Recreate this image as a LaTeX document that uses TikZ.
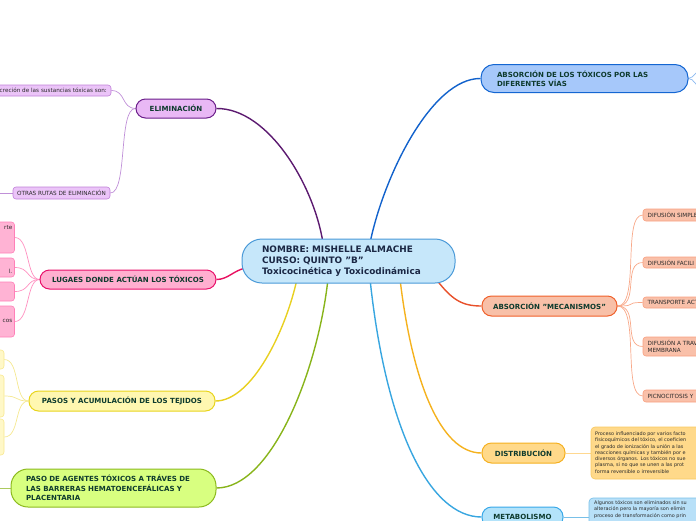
\documentclass[tikz,border=0pt]{standalone}
\usepackage{fontspec}
\setmainfont{DejaVu Sans}
\usetikzlibrary{calc}
\pgfdeclarelayer{bg}
\pgfsetlayers{bg,main}
\definecolor{cfill}{HTML}{C6E7FA}
\definecolor{cdraw}{HTML}{4A9AD8}
\definecolor{ctxt}{HTML}{1A2744}
\definecolor{txtgreen}{HTML}{0E3B2E}
\definecolor{subtxt}{HTML}{2A2A2A}
\definecolor{elfill}{HTML}{E9B8F5}
\definecolor{eldraw}{HTML}{6B1E8A}
\definecolor{elcon}{HTML}{5C1A70}
\definecolor{elsfill}{HTML}{EBC4F8}
\definecolor{elsdraw}{HTML}{C080D8}
\definecolor{elscon}{HTML}{C090D8}
\definecolor{lgfill}{HTML}{FFAFD0}
\definecolor{lgdraw}{HTML}{E8106A}
\definecolor{lgcon}{HTML}{E81060}
\definecolor{lgsfill}{HTML}{FFB3D4}
\definecolor{lgsdraw}{HTML}{FF80B8}
\definecolor{lgscon}{HTML}{FF90C0}
\definecolor{pafill}{HTML}{FFF7B0}
\definecolor{padraw}{HTML}{E8D41C}
\definecolor{pacon}{HTML}{E8D020}
\definecolor{pasfill}{HTML}{FFF8C8}
\definecolor{pasdraw}{HTML}{F8E890}
\definecolor{pascon}{HTML}{F5E890}
\definecolor{agfill}{HTML}{D8FF80}
\definecolor{agdraw}{HTML}{8CBA1E}
\definecolor{agcon}{HTML}{88B41A}
\definecolor{vifill}{HTML}{A6C8FA}
\definecolor{vidraw}{HTML}{1466D2}
\definecolor{vicon}{HTML}{1262CC}
\definecolor{viscon}{HTML}{8AB8F0}
\definecolor{mefill}{HTML}{F8C0A8}
\definecolor{medraw}{HTML}{F0602A}
\definecolor{mecon}{HTML}{E8502A}
\definecolor{mesfill}{HTML}{F9C0A9}
\definecolor{mesdraw}{HTML}{F8A080}
\definecolor{mescon}{HTML}{F8A888}
\definecolor{difill}{HTML}{FFD98A}
\definecolor{didraw}{HTML}{F5B020}
\definecolor{dicon}{HTML}{F5B21E}
\definecolor{disdraw}{HTML}{F8C860}
\definecolor{discon}{HTML}{FFD890}
\definecolor{mtfill}{HTML}{B3E3FA}
\definecolor{mtdraw}{HTML}{38A8E8}
\definecolor{mtcon}{HTML}{38A6E0}
\definecolor{mtsfill}{HTML}{B8E0F8}
\definecolor{mtsdraw}{HTML}{78C0E8}
\newcommand{\sq}{\symbol{34}}
\tikzset{
  mainbox/.style={draw, line width=1pt, rounded corners=9.5pt, inner sep=0pt,
    font=\fontsize{7.05}{9.3}\selectfont\bfseries, text=txtgreen},
  subbox/.style={draw, line width=0.6pt, rounded corners=3pt, inner sep=0pt,
    font=\fontsize{5.7}{6.8}\selectfont, text=subtxt},
  subtext/.style={font=\fontsize{5.7}{6.8}\selectfont, text=subtxt, inner sep=0pt, align=left},
  detail/.style={font=\fontsize{4.9}{6.3}\selectfont, text=subtxt, align=left, inner sep=0pt, anchor=north west},
  conn/.style={line width=1.4pt},
  subconn/.style={line width=0.7pt},
}
\begin{document}
\begin{tikzpicture}[x=1pt,y=-1pt]
\useasboundingbox (0,0) rectangle (696,520);
\clip (0,0) rectangle (696,520);

% central node
\node[mainbox, fill=cfill, draw=cdraw, rounded corners=20pt, minimum width=213pt, minimum height=44pt,
  text width=173pt, align=left, inner xsep=20pt, font=\fontsize{8.9}{10.7}\selectfont\bfseries, text=ctxt]
  (c) at (348.5,261) {NOMBRE: MISHELLE ALMACHE\\CURSO: QUINTO \sq B\sq\\Toxicocinética y Toxicodinámica};

% main branches
\node[mainbox, fill=elfill, draw=eldraw, minimum width=80pt, minimum height=19pt] (elim) at (176,108.5) {ELIMINACIÓN};
\node[mainbox, fill=lgfill, draw=lgdraw, minimum width=176pt, minimum height=19pt] (lug) at (128,279.5) {LUGAES DONDE ACTÚAN LOS TÓXICOS};
\node[mainbox, fill=pafill, draw=padraw, minimum width=186pt, minimum height=20pt] (pasos) at (122,401) {PASOS Y ACUMULACIÓN DE LOS TEJIDOS};
\node[mainbox, fill=agfill, draw=agdraw, rounded corners=17pt, minimum width=205pt, minimum height=38pt,
  text width=175pt, align=left, inner xsep=15pt] (ag) at (113.5,488)
  {PASO DE AGENTES TÓXICOS A TRÁVES DE\\LAS BARRERAS HEMATOENCEFÁLICAS Y\\PLACENTARIA};
\node[mainbox, fill=vifill, draw=vidraw, rounded corners=13pt, minimum width=207pt, minimum height=28pt,
  text width=175pt, align=left, inner xsep=16pt] (vias) at (584.5,78.5)
  {ABSORCIÓN DE LOS TÓXICOS POR LAS\\DIFERENTES VÍAS};
\node[mainbox, fill=mefill, draw=medraw, minimum width=135pt, minimum height=20pt] (mec) at (549.5,306) {ABSORCIÓN \sq MECANISMOS\sq};
\node[mainbox, fill=difill, draw=didraw, minimum width=83pt, minimum height=20pt] (dist) at (523.5,453) {DISTRIBUCIÓN};
\node[mainbox, fill=mtfill, draw=mtdraw, minimum width=81pt, minimum height=20pt] (meta) at (522.5,517) {METABOLISMO};

% ELIMINACION children
\node[subbox, fill=elsfill, draw=elsdraw, minimum width=131pt, minimum height=11pt] (e1) at (45.5,90.5) {};
\node[subtext, anchor=east] (e1t) at (107,90.7) {excreción de las sustancias tóxicas son:};
\node[subbox, fill=elsfill, draw=elsdraw, minimum width=97pt, minimum height=12pt] (e2) at (61.5,193) {OTRAS RUTAS DE ELIMINACIÓN};
\coordinate (e2out) at (-10,193);

% LUGAES children
\node[subbox, fill=lgsfill, draw=lgsdraw, minimum width=25pt, minimum height=31pt] (l1) at (2,237.5) {};
\node[subbox, fill=lgsfill, draw=lgsdraw, minimum width=25pt, minimum height=19pt] (l2) at (2,267.5) {};
\node[subbox, fill=lgsfill, draw=lgsdraw, minimum width=25pt, minimum height=19pt] (l3) at (2,291.5) {};
\node[subbox, fill=lgsfill, draw=lgsdraw, minimum width=25pt, minimum height=31pt] (l4) at (2,321.5) {};
\node[subtext, anchor=east] (l1t) at (12.5,228) {rte};
\node[subtext, anchor=east] (l2t) at (12.5,271) {l.};
\node[subtext, anchor=east] (l4t) at (12.5,321) {cos};

% PASOS children
\node[subbox, fill=pasfill, draw=pasdraw, minimum width=24pt, minimum height=19pt] (p1) at (-8,359.5) {};
\node[subbox, fill=pasfill, draw=pasdraw, minimum width=24pt, minimum height=42pt] (p2) at (-8,396) {};
\node[subbox, fill=pasfill, draw=pasdraw, minimum width=24pt, minimum height=36pt] (p3) at (-8,437) {};

\coordinate (agout) at (-10,488);

% ABSORCION vias children (off canvas)
\coordinate (va1) at (704,68);
\coordinate (va2) at (704,90);

% MECANISMOS children
\node[subbox, fill=mesfill, draw=mesdraw, minimum width=80pt, minimum height=12pt] (m1) at (683,215) {};
\node[subbox, fill=mesfill, draw=mesdraw, minimum width=80pt, minimum height=11pt] (m2) at (683,262.5) {};
\node[subbox, fill=mesfill, draw=mesdraw, minimum width=80pt, minimum height=11pt] (m3) at (683,302.5) {};
\node[subbox, fill=mesfill, draw=mesdraw, minimum width=80pt, minimum height=19pt] (m4) at (683,346.5) {};
\node[subbox, fill=mesfill, draw=mesdraw, minimum width=80pt, minimum height=12pt] (m5) at (683,396) {};
\node[subtext, anchor=west] (m1t) at (647.5,215.2) {DIFUSIÓN SIMPLE};
\node[subtext, anchor=west] (m2t) at (647.5,262.7) {DIFUSIÓN FACILI};
\node[subtext, anchor=west] (m3t) at (647.5,302.7) {TRANSPORTE ACT};
\node[subtext, anchor=west] (m4t) at (647.5,346.7) {DIFUSIÓN A TRAV\\MEMBRANA};
\node[subtext, anchor=west] (m5t) at (647.5,396.2) {PICNOCITOSIS Y};

% DISTRIBUCION child
\node[subbox, fill=difill, draw=disdraw, minimum width=130pt, minimum height=52pt, rounded corners=4pt] (d1) at (656,453) {};
\node[detail] (d1t) at (595,431.5) {Proceso influenciado por varios facto\\fisicoquímicos del tóxico, el coeficien\\el grado de ionización la unión a las\\reacciones químicas y también por e\\diversos órganos. Los tóxicos no sue\\plasma, si no que se unen a las prot\\forma reversible o irreversible};

% METABOLISMO child
\node[subbox, fill=mtsfill, draw=mtsdraw, minimum width=130pt, minimum height=44pt, rounded corners=4pt] (t1) at (654,520) {};
\node[detail] (t1t) at (594,500.5) {Algunos tóxicos son eliminados sin su\\alteración pero la mayoría son elimin\\proceso de transformación como prin};

% connection points on the central node
\coordinate (cEl) at (323,243);
\coordinate (cVi) at (370,243);
\coordinate (cLg) at (246,268);
\coordinate (cPa) at (297,279);
\coordinate (cAg) at (328,279);
\coordinate (cMe) at (436,279);
\coordinate (cDi) at (400,279);
\coordinate (cMt) at (370,279);

\begin{pgfonlayer}{bg}
\clip (0,0) rectangle (696,520);
% main connectors
\draw[conn, elcon] (elim.east) .. controls (268,108) and (314,185) .. (cEl);
\draw[conn, vicon] (vias.west) .. controls (432,78) and (384,175) .. (cVi);
\draw[conn, lgcon] (lug.east) .. controls (228,279.5) and (234,270) .. (cLg);
\draw[conn, pacon] (pasos.east) .. controls (252,401) and (286,330) .. (cPa);
\draw[conn, agcon] (ag.east) .. controls (272,488) and (318,370) .. (cAg);
\draw[conn, mecon] (cMe) .. controls (452,300) and (462,306) .. (mec.west);
\draw[conn, dicon] (cDi) .. controls (412,380) and (440,453) .. (dist.west);
\draw[conn, mtcon] (cMt) .. controls (386,430) and (430,517) .. (meta.west);
% sub connectors
\draw[subconn, elscon] (elim.west) .. controls (121,108) and (126,90.5) .. (e1.east);
\draw[subconn, elscon] (elim.west) .. controls (118,108) and (128,193) .. (e2.east);
\draw[subconn, elscon] (e2.west) -- (e2out);
\foreach \n in {l1,l2,l3,l4}
  \draw[subconn, lgscon] (lug.west) .. controls (26,279.5) and (30,0 |- \n.east) .. (\n.east);
\foreach \n in {p1,p2,p3}
  \draw[subconn, pascon] (pasos.west) .. controls (14,401) and (20,0 |- \n.east) .. (\n.east);
\draw[subconn, agcon!70] (ag.west) -- (agout);
\draw[subconn, viscon] (vias.east) .. controls (694,78) and (696,70) .. (va1);
\draw[subconn, viscon] (vias.east) .. controls (694,78) and (696,88) .. (va2);
\foreach \n in {m1,m2,m3,m4,m5}
  \draw[subconn, mescon] (mec.east) .. controls (640,306) and (622,0 |- \n.west) .. (\n.west);
\draw[subconn, discon] (dist.east) -- (d1.west);
\draw[subconn, mtsdraw] (meta.east) -- (meta.east -| t1.west);
\end{pgfonlayer}
\end{tikzpicture}
\end{document}
